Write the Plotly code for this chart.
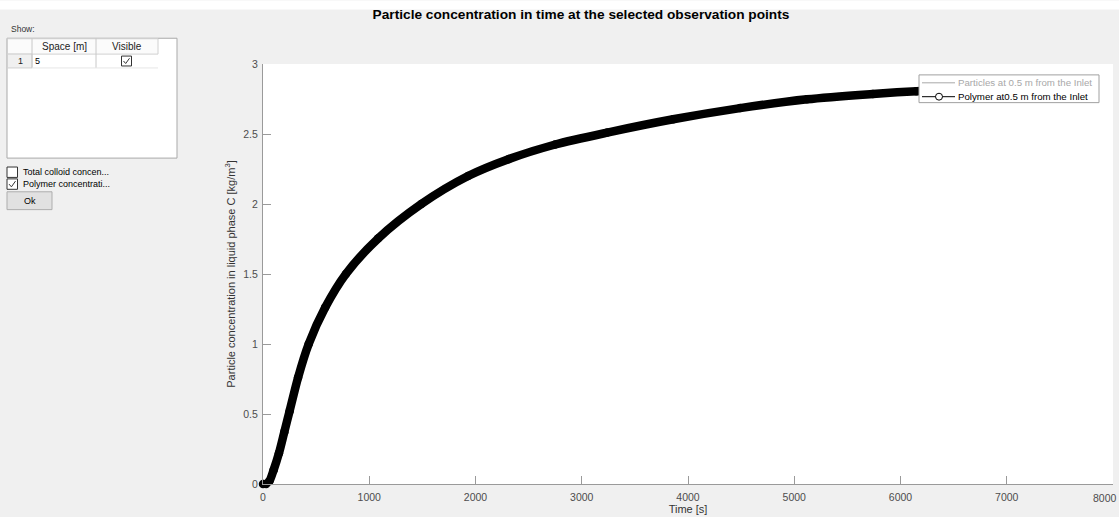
import plotly.graph_objects as go

# ---- data ----
time_s = [0, 30, 60, 100, 150, 200, 250, 330, 430, 585, 780, 1085, 1490, 1930, 2310,
          2750, 3240, 3860, 4490, 5120, 5740, 6150, 7000]
polymer_conc = [0, 0.0, 0.02, 0.10, 0.22, 0.37, 0.52, 0.76, 1.00, 1.26, 1.50, 1.755, 2.00, 2.20, 2.32,
                2.425, 2.51, 2.605, 2.685, 2.748, 2.786, 2.806, 2.845]
x_ticks = [0, 1000, 2000, 3000, 4000, 5000, 6000, 7000, 8000]
x_tick_labels = ["0", "1000", "2000", "3000", "4000", "5000", "6000", "7000", "8000"]
y_ticks = [0, 0.5, 1, 1.5, 2, 2.5, 3]
y_tick_labels = ["0", "0.5", "1", "1.5", "2", "2.5", "3"]
legend_names = ["Particles at 0.5 m from the Inlet", "Polymer at0.5 m from the Inlet"]
table_header = ["Space [m]", "Visible"]
table_row = ["1", "5"]
checkbox_labels = ["Total colloid concen...", "Polymer concentrati..."]

W, H = 1119, 517
PL, PR, PT, PB = 263, 1113, 64, 488
PW, PH = PR - PL, PB - PT

def X(px):
    return (px - PL) / PW

def Y(py):
    return (PB - py) / PH

FONT = "Liberation Sans, Arial, sans-serif"
TICK_COLOR = "#4d4d4d"

fig = go.Figure()

fig.add_trace(go.Scatter(
    x=time_s, y=polymer_conc, mode="lines+markers", showlegend=False,
    name=legend_names[1], cliponaxis=False,
    line=dict(color="black", width=8.5, shape="spline", smoothing=0.8),
    marker=dict(symbol="circle", size=8.5, color="black")))

shapes = []
annotations = []

def rect(x0, y0, x1, y1, fill="white", line="#a9a9a9", lw=1):
    shapes.append(dict(type="rect", xref="paper", yref="paper",
                       x0=X(x0), x1=X(x1), y0=Y(y0), y1=Y(y1),
                       fillcolor=fill, line=dict(color=line, width=lw), layer="above"))

def seg(x0, y0, x1, y1, color="#c8c8c8", lw=1):
    shapes.append(dict(type="line", xref="paper", yref="paper",
                       x0=X(x0), x1=X(x1), y0=Y(y0), y1=Y(y1),
                       line=dict(color=color, width=lw), layer="above"))

def text(px, py, s, size=10, color="#000000", anchor="left"):
    annotations.append(dict(xref="paper", yref="paper", x=X(px), y=Y(py), text=s,
                            showarrow=False, xanchor=anchor, yanchor="middle",
                            font=dict(family=FONT, size=size, color=color)))

def checkbox(x0, y0, s, checked):
    rect(x0, y0, x0 + s, y0 + s, fill="white", line="#333333", lw=1)
    if checked:
        p = "M {} {} L {} {} L {} {}".format(
            X(x0 + 2), Y(y0 + s * 0.5), X(x0 + s * 0.42), Y(y0 + s - 2.5),
            X(x0 + s - 2), Y(y0 + 2.2))
        shapes.append(dict(type="path", xref="paper", yref="paper", path=p,
                           line=dict(color="#333333", width=1), layer="above"))

# top white strip
rect(0, 0, W, 9, fill="white", line="white", lw=0)

# left panel
text(9, 29, "Show:", size=8.5, color="#333333")
rect(7, 38, 177, 159, fill="white", line="#a9a9a9")
rect(7.5, 38.5, 158, 54, fill="#fbfbfb", line="#d0d0d0")
rect(7.5, 54, 32, 68, fill="#f0f0f0", line="#d0d0d0")
seg(32, 38, 32, 68)
seg(96, 38, 96, 68)
seg(32, 68, 158, 68, color="#e6e6e6")
text(64, 46, table_header[0], size=10, color="#222222", anchor="center")
text(127, 46, table_header[1], size=10, color="#222222", anchor="center")
text(20, 61, table_row[0], size=9, color="#222222", anchor="center")
text(33, 61, table_row[1], size=9, color="#000000")
checkbox(121.5, 56, 10, True)

checkbox(7, 168, 10.5, False)
checkbox(7, 180, 10.5, True)
text(21, 173, checkbox_labels[0], size=9, color="#000000")
text(21, 185, checkbox_labels[1], size=9, color="#000000")
rect(7, 193, 52, 211, fill="#e1e1e1", line="#adadad")
text(29.5, 202, "Ok", size=9, color="#000000", anchor="center")

# legend (drawn like the MATLAB legend box)
rect(919, 75, 1099, 103, fill="white", line="#a0a0a0")
seg(922, 83, 955, 83, color="#a8a8a8", lw=1)
seg(922, 97, 955, 97, color="#000000", lw=1)
shapes.append(dict(type="circle", xref="paper", yref="paper",
                   x0=X(935.5), x1=X(942.5), y0=Y(93.5), y1=Y(100.5),
                   fillcolor="white", line=dict(color="black", width=1), layer="above"))
text(956, 83, legend_names[0], size=9.7, color="#a8a8a8")
text(956, 97, legend_names[1], size=9.7, color="#000000")

# last x tick label sits at the right window edge (cut off in the reference);
# keep it inside the page so the page does not grow
annotations.append(dict(xref="paper", yref="paper", x=1 + 6 / PW, y=Y(502), text=x_tick_labels[-1],
                        showarrow=False, xanchor="right", yanchor="middle",
                        font=dict(family=FONT, size=10.5, color=TICK_COLOR)))

axis_common = dict(
    showgrid=False, zeroline=False, showline=True, linecolor="#9a9a9a", linewidth=1,
    ticks="inside", ticklen=8, tickcolor="#9a9a9a", tickwidth=1,
    tickfont=dict(family=FONT, size=10.5, color=TICK_COLOR),
    mirror=False,
)

fig.update_layout(
    width=W, height=H,
    margin=dict(l=PL, r=W - PR, t=PT, b=H - PB, pad=0),
    paper_bgcolor="#f0f0f0", plot_bgcolor="white",
    title=dict(text="Particle concentration in time at the selected observation points",
               x=581 / W, xanchor="center", y=1 - 14.5 / H, yanchor="middle",
               font=dict(family=FONT, size=13.7, color="#000000", weight="bold")),
    xaxis=dict(range=[0, 8000], tickvals=x_ticks,
               ticktext=x_tick_labels[:-1] + [""],
               ticklabelstandoff=3,
               title=dict(text="Time [s]", standoff=1,
                          font=dict(family=FONT, size=11, color="#333333")),
               **axis_common),
    yaxis=dict(range=[0, 3], tickvals=y_ticks, ticktext=y_tick_labels,
               ticklabelstandoff=2,
               title=dict(text="Particle concentration in liquid phase C [kg/m<sup>3</sup>]", standoff=5,
                          font=dict(family=FONT, size=11, color="#333333")),
               **axis_common),
    shapes=shapes, annotations=annotations,
    showlegend=False,
)

fig.write_html("out.html", config={"displayModeBar": False},
               post_script="document.body.style.margin='0';document.body.style.overflow='hidden';")
